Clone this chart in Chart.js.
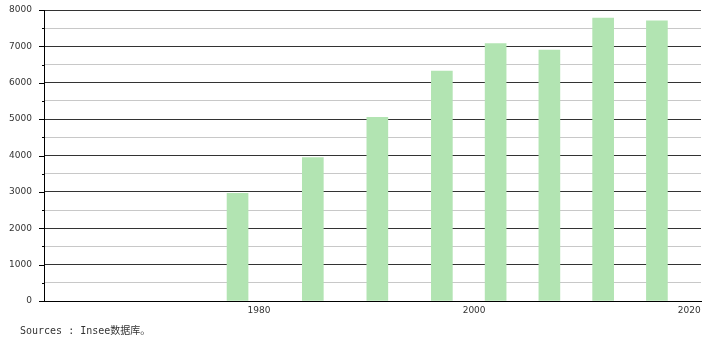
<!DOCTYPE html>
<html>
<head>
<meta charset="utf-8">
<script src="https://cdn.jsdelivr.net/npm/chart.js@4/dist/chart.umd.min.js"></script>
<style>
  html, body { margin: 0; padding: 0; background: #fff; }
  #wrap { position: relative; width: 710px; height: 340px; }
  #source {
    position: absolute; left: 20px; top: 322px;
    font: 10px "DejaVu Sans Mono", "Noto Sans CJK SC", monospace; color: #333;
  }
</style>
</head>
<body>
<div id="wrap">
  <canvas id="chart" width="710" height="340"></canvas>
  <div id="source">Sources : Insee数据库。</div>
</div>
<script>
// values
const years = [1978, 1985, 1991, 1997, 2002, 2007, 2012, 2017];
const values = [2960, 3945, 5050, 6320, 7080, 6900, 7780, 7700];
const xTickYears = [1980, 2000, 2020];

const barColor = 'rgb(178, 228, 178)';

// short outside tick marks on the y axis (long for 1000s, short for 500s)
const yTickMarks = {
  id: 'yTickMarks',
  afterDraw(chart) {
    const ctx = chart.ctx;
    const y = chart.scales.y;
    const left = chart.chartArea.left;
    ctx.save();
    ctx.strokeStyle = '#000';
    ctx.lineWidth = 1;
    for (let v = 0; v <= 8000; v += 500) {
      const py = Math.round(y.getPixelForValue(v)) + 0.5;
      const len = v % 1000 === 0 ? 5 : 2;
      ctx.beginPath();
      ctx.moveTo(left - len, py);
      ctx.lineTo(left, py);
      ctx.stroke();
    }
    ctx.restore();
  }
};

new Chart(document.getElementById('chart').getContext('2d'), {
  type: 'bar',
  data: {
    datasets: [{
      data: years.map((yr, i) => ({ x: yr, y: values[i] })),
      backgroundColor: barColor,
      borderWidth: 0,
      barThickness: 21
    }]
  },
  options: {
    responsive: false,
    animation: false,
    layout: { padding: { top: 10, right: 9, left: 0, bottom: 0 } },
    plugins: {
      legend: { display: false },
      tooltip: { enabled: false }
    },
    scales: {
      x: {
        type: 'linear',
        offset: false,
        min: 1960,
        max: 2021.1,
        afterBuildTicks: s => { s.ticks = xTickYears.map(v => ({ value: v })); },
        afterFit: s => { s.height = 39; s.paddingLeft = 0; s.paddingRight = 0; },
        grid: { display: false, drawTicks: false, offset: false },
        border: { display: true, color: '#000', width: 1 },
        ticks: {
          padding: 4,
          color: '#333',
          font: { family: 'DejaVu Sans', size: 9 },
          maxRotation: 0,
          callback: v => String(v)
        }
      },
      y: {
        min: 0,
        max: 8000,
        afterFit: s => { s.width = 44; s.paddingTop = 0; s.paddingBottom = 0; },
        grid: {
          drawTicks: false,
          color: c => (c.tick.value % 1000 === 0 ? '#333' : '#c8c8c8'),
          lineWidth: 1
        },
        border: { display: true, color: '#000', width: 1 },
        ticks: {
          stepSize: 500,
          padding: 12,
          color: '#333',
          font: { family: 'DejaVu Sans', size: 9 },
          callback: v => (v % 1000 === 0 ? String(v) : '')
        }
      }
    }
  },
  plugins: [yTickMarks]
});
</script>
</body>
</html>
